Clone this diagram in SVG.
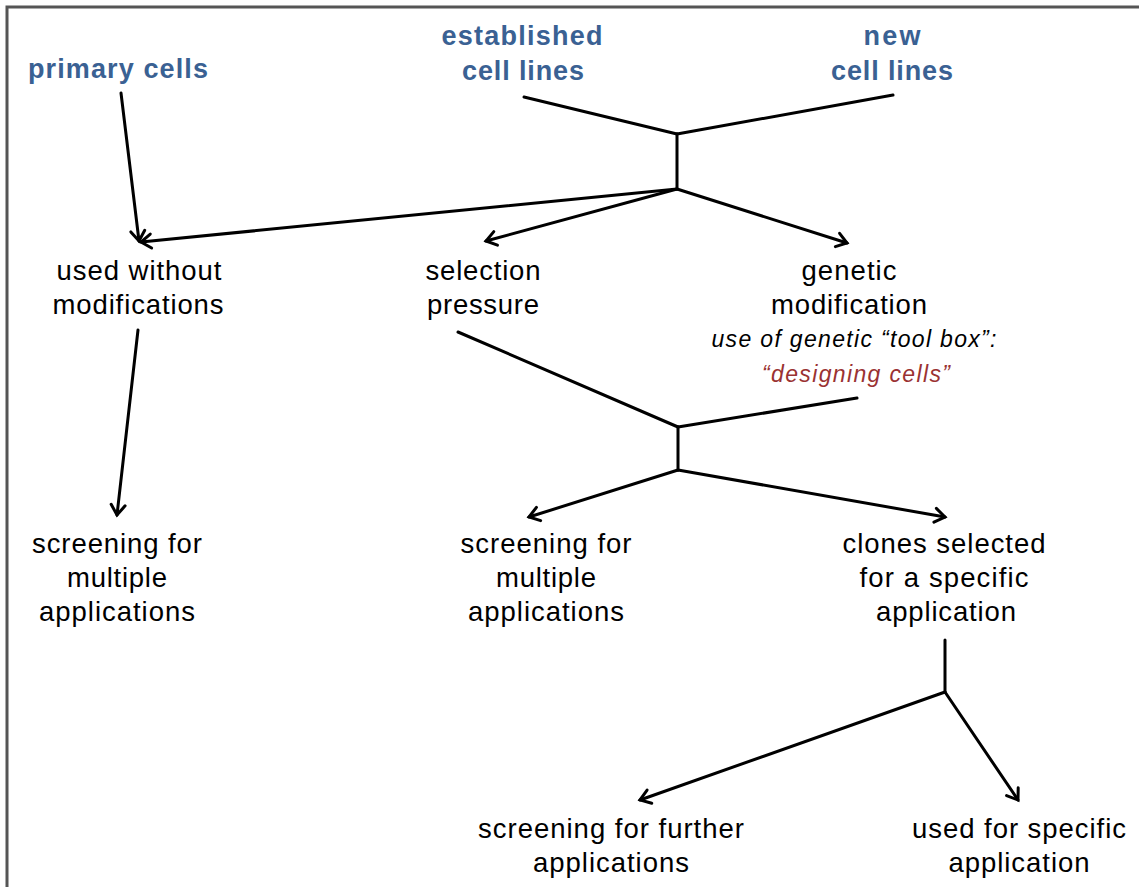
<svg xmlns="http://www.w3.org/2000/svg" width="1139" height="887" viewBox="0 0 1139 887">
<style>
.t{font-family:"Liberation Sans",Arial,sans-serif;font-size:27.5px;fill:#000;text-anchor:middle}
.h{font-family:"Liberation Sans",Arial,sans-serif;font-size:27px;font-weight:bold;fill:#3a6193;text-anchor:middle}
.i{font-family:"Liberation Sans",Arial,sans-serif;font-size:23px;font-style:italic;fill:#000;text-anchor:middle}
.r{fill:#9a3232}
.c line{stroke:#000;stroke-width:3;stroke-linecap:round;fill:none}
.a{marker-end:url(#arr)}
</style>
<defs>
<marker id="arr" markerUnits="userSpaceOnUse" markerWidth="20" markerHeight="20" refX="13" refY="10" orient="auto">
<path d="M3,3 L13,10 L3,17" fill="none" stroke="#000" stroke-width="3" stroke-linecap="round" stroke-linejoin="miter"/>
</marker>
</defs>
<rect width="1139" height="887" fill="#fff"/>
<path d="M7,887 V7 H1139" fill="none" stroke="#555" stroke-width="3"/>
<g id="n-primary"><text class="h" x="118" y="78" textLength="180" lengthAdjust="spacing">primary cells</text></g>
<g id="n-established"><text class="h" x="522" y="45" textLength="161" lengthAdjust="spacing">established</text><text class="h" x="523" y="80" textLength="122" lengthAdjust="spacing">cell lines</text></g>
<g id="n-new"><text class="h" x="892" y="45" textLength="57" lengthAdjust="spacing">new</text><text class="h" x="892" y="80" textLength="122" lengthAdjust="spacing">cell lines</text></g>
<g id="n-unmod"><text class="t" x="139" y="280" textLength="165" lengthAdjust="spacing">used without</text><text class="t" x="138" y="314" textLength="171" lengthAdjust="spacing">modifications</text></g>
<g id="n-selection"><text class="t" x="483" y="280" textLength="115" lengthAdjust="spacing">selection</text><text class="t" x="483" y="314" textLength="112" lengthAdjust="spacing">pressure</text></g>
<g id="n-genetic"><text class="t" x="849" y="280" textLength="95" lengthAdjust="spacing">genetic</text><text class="t" x="849" y="314" textLength="156" lengthAdjust="spacing">modification</text><text class="i" x="854" y="347" textLength="285" lengthAdjust="spacing">use of genetic “tool box”:</text><text class="i r" x="856" y="382" textLength="188" lengthAdjust="spacing">“designing cells”</text></g>
<g id="n-screen1"><text class="t" x="117" y="553" textLength="170" lengthAdjust="spacing">screening for</text><text class="t" x="117" y="587" textLength="100" lengthAdjust="spacing">multiple</text><text class="t" x="117" y="621" textLength="156" lengthAdjust="spacing">applications</text></g>
<g id="n-screen2"><text class="t" x="546" y="553" textLength="171" lengthAdjust="spacing">screening for</text><text class="t" x="546" y="587" textLength="100" lengthAdjust="spacing">multiple</text><text class="t" x="546" y="621" textLength="156" lengthAdjust="spacing">applications</text></g>
<g id="n-clones"><text class="t" x="944" y="553" textLength="203" lengthAdjust="spacing">clones selected</text><text class="t" x="944" y="587" textLength="169" lengthAdjust="spacing">for a specific</text><text class="t" x="946" y="621" textLength="140" lengthAdjust="spacing">application</text></g>
<g id="n-further"><text class="t" x="611" y="838" textLength="266" lengthAdjust="spacing">screening for further</text><text class="t" x="611" y="872" textLength="156" lengthAdjust="spacing">applications</text></g>
<g id="n-specific"><text class="t" x="1019" y="838" textLength="214" lengthAdjust="spacing">used for specific</text><text class="t" x="1019" y="872" textLength="141" lengthAdjust="spacing">application</text></g>
<g id="connectors" class="c">
<line x1="524" y1="97" x2="677" y2="134"/>
<line x1="893" y1="95" x2="677" y2="134"/>
<line x1="677" y1="134" x2="677" y2="189"/>
<line class="a" x1="677" y1="189" x2="141" y2="242"/>
<line class="a" x1="677" y1="189" x2="486" y2="241"/>
<line class="a" x1="677" y1="189" x2="847" y2="243"/>
<line class="a" x1="121" y1="93" x2="139" y2="241"/>
<line class="a" x1="138" y1="330" x2="117" y2="515"/>
<line x1="458" y1="332" x2="678" y2="427"/>
<line x1="857" y1="398" x2="678" y2="427"/>
<line x1="678" y1="427" x2="678" y2="470"/>
<line class="a" x1="678" y1="470" x2="529" y2="517"/>
<line class="a" x1="678" y1="470" x2="945" y2="517"/>
<line x1="945" y1="640" x2="945" y2="692"/>
<line class="a" x1="945" y1="692" x2="640" y2="800"/>
<line class="a" x1="945" y1="692" x2="1018" y2="800"/>
</g>
</svg>
